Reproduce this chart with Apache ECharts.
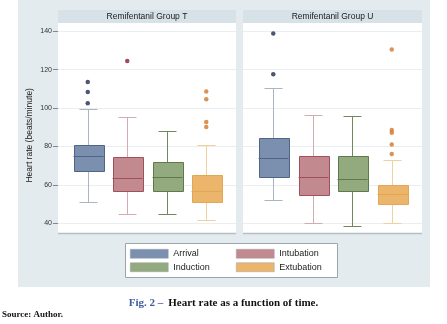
<!DOCTYPE html>
<html>
<head>
<meta charset="utf-8">
<script src="https://cdn.jsdelivr.net/npm/echarts@6/dist/echarts.min.js"></script>
<style>
  html, body { margin: 0; padding: 0; background: #fff; }
  #chart { width: 447px; height: 324px; }
</style>
</head>
<body>
<div id="chart"></div>
<script>
const groups = ["Remifentanil Group T", "Remifentanil Group U"];
const timePoints = ["Arrival", "Intubation", "Induction", "Extubation"];

// [lower whisker, Q1, median, Q3, upper whisker]
const groupTBoxes = [
  [51, 67, 75, 81, 99.5],
  [45, 57, 63.5, 74.5, 95.2],
  [44.7, 57, 64, 72, 88.3],
  [41.7, 51, 56.7, 65.2, 81],
];
const groupUBoxes = [
  [52, 64, 74, 84.4, 110.7],
  [40, 55, 64, 75, 96.6],
  [38.6, 56.7, 63, 75, 96.1],
  [40, 50.2, 55.3, 59.8, 72.8],
];
const groupTOutliers = [[113.6, 108.4, 102.5], [124.5], [], [108.6, 104.6, 92.8, 90.2]];
const groupUOutliers = [[138.8, 117.6], [], [], [130.5, 88.6, 87.2, 81, 76.1]];

const yMin = 40;
const yMax = 140;
const yStep = 20;

const fillColors = ["#7b90ae", "#c2898f", "#92aa7d", "#ebb66c"];
const edgeColors = ["#4f6487", "#a04f5c", "#5f7a49", "#e3a652"];
const whiskerColors = ["#aab4c5", "#d5aab0", "#6f8a5a", "#f0d09f"];
const outlierColors = ["#1f2c4f", "#8c1d31", "#5f7a49", "#d4772b"];

const panelLeft = [58, 243];
const panelWidth = [178, 179];
const plotTop = 31.3;
const plotHeight = 192;
const boxPitch = 39.5; // px between neighbouring boxes
const boxPx = 30;

const boxes = [groupTBoxes, groupUBoxes];
const outliers = [groupTOutliers, groupUOutliers];

const px = (v) => Math.round(v) + 0.5;

const renderBox = (k) => (params, api) => {
  const x = api.value(0);
  const xc = px(api.coord([x, 0])[0]);
  const y = [1, 2, 3, 4, 5].map((d) => px(api.coord([x, api.value(d)])[1]));
  const half = api.size([boxPx / boxPitch, 0])[0] / 2;
  const cap = half * 0.6;
  const wStyle = { stroke: whiskerColors[k], lineWidth: 1 };
  return {
    type: "group",
    children: [
      { type: "line", shape: { x1: xc, y1: y[4], x2: xc, y2: y[3] }, style: wStyle },
      { type: "line", shape: { x1: xc, y1: y[1], x2: xc, y2: y[0] }, style: wStyle },
      { type: "line", shape: { x1: xc - cap, y1: y[4], x2: xc + cap, y2: y[4] }, style: wStyle },
      { type: "line", shape: { x1: xc - cap, y1: y[0], x2: xc + cap, y2: y[0] }, style: wStyle },
      {
        type: "rect",
        shape: { x: Math.round(xc - half) + 0.5, y: y[3], width: Math.round(2 * half), height: y[1] - y[3] },
        style: { fill: fillColors[k], stroke: edgeColors[k], lineWidth: 1 },
      },
      { type: "line", shape: { x1: xc - half, y1: y[2], x2: xc + half, y2: y[2] }, style: { stroke: edgeColors[k], lineWidth: 1 } },
    ],
  };
};

const chart = echarts.init(document.getElementById("chart"), null, { renderer: "canvas" });

const grid = [];
const xAxis = [];
const yAxis = [];
const boxSeries = [];
const dotSeries = [];

groups.forEach((g, i) => {
  const half = panelWidth[i] / 2 / boxPitch;
  grid.push({ left: panelLeft[i], width: panelWidth[i], top: plotTop, height: plotHeight });
  xAxis.push({ type: "value", gridIndex: i, min: 1.5 - half, max: 1.5 + half, show: false });
  yAxis.push({
    type: "value",
    gridIndex: i,
    min: yMin,
    max: yMax,
    interval: yStep,
    name: i === 0 ? "Heart rate (beats/minute)" : "",
    nameLocation: "middle",
    nameGap: 24,
    nameTextStyle: { fontFamily: "Liberation Sans", fontSize: 8.5, color: "#222", padding: [0, 16, 0, 0] },
    axisLine: { show: false, onZero: false },
    axisTick: { show: i === 0, length: 5, lineStyle: { color: "#7d8890" } },
    axisLabel: { show: i === 0, fontFamily: "Liberation Sans", fontSize: 7, color: "#333", margin: 6 },
    splitLine: { lineStyle: { color: "#e8eef1", width: 1 } },
  });

  timePoints.forEach((name, k) => {
    boxSeries.push({
      name,
      type: "custom",
      xAxisIndex: i,
      yAxisIndex: i,
      silent: true,
      itemStyle: { color: fillColors[k], borderColor: edgeColors[k] },
      encode: { x: 0, y: [1, 2, 3, 4, 5] },
      renderItem: renderBox(k),
      data: [[k, ...boxes[i][k]]],
    });
    if (outliers[i][k].length) {
      dotSeries.push({
        name,
        type: "scatter",
        xAxisIndex: i,
        yAxisIndex: i,
        symbolSize: 4.5,
        silent: true,
        itemStyle: { color: outlierColors[k] },
        data: outliers[i][k].map((v) => [k, v]),
      });
    }
  });
});

const panelGraphics = groups.map((g, i) => ({
  type: "group",
  children: [
    { type: "rect", shape: { x: panelLeft[i], y: 10, width: panelWidth[i], height: 13 }, style: { fill: "#d7e2e8" }, z: -2 },
    { type: "rect", shape: { x: panelLeft[i], y: 23, width: panelWidth[i], height: 210 }, style: { fill: "#ffffff" }, z: -2 },
    { type: "line", shape: { x1: panelLeft[i], y1: 233.5, x2: panelLeft[i] + panelWidth[i], y2: 233.5 }, style: { stroke: "#b3bfc7", lineWidth: 1.5 }, z: 1 },
    {
      type: "text",
      x: panelLeft[i] + panelWidth[i] / 2,
      y: 16.5,
      style: { text: g, fill: "#1a1a1a", font: "8.5px 'Liberation Sans'", align: "center", verticalAlign: "middle" },
      z: 1,
    },
  ],
}));

const legendItem = (name) => {
  const k = timePoints.indexOf(name);
  return { name, itemStyle: { color: fillColors[k], borderColor: "#9aa3ab", borderWidth: 0.5 } };
};

const legendBase = {
  orient: "vertical",
  top: 249,
  padding: 0,
  itemWidth: 38,
  itemHeight: 9,
  itemGap: 4,
  icon: "rect",
  selectedMode: false,
  textStyle: { fontFamily: "Liberation Sans", fontSize: 9, color: "#222", lineHeight: 9 },
};

chart.setOption({
  backgroundColor: "#ffffff",
  animation: false,
  grid,
  xAxis,
  yAxis,
  series: [...boxSeries, ...dotSeries],
  legend: [
    { ...legendBase, left: 130, data: ["Arrival", "Induction"].map(legendItem) },
    { ...legendBase, left: 236, data: ["Intubation", "Extubation"].map(legendItem) },
  ],
  title: [
    {
      text: "{a|Fig. 2 –} {b|Heart rate as a function of time.}",
      left: "center",
      top: 294,
      padding: 0,
      textStyle: {
        rich: {
          a: { fontFamily: "Liberation Serif", fontWeight: "bold", fontSize: 11, color: "#3d5d9b" },
          b: { fontFamily: "Liberation Serif", fontWeight: "bold", fontSize: 11, color: "#111" },
        },
      },
    },
    {
      text: "Source: Author.",
      left: 2,
      top: 310,
      padding: 0,
      textStyle: { fontFamily: "Liberation Serif", fontWeight: "bold", fontSize: 9, color: "#111" },
    },
  ],
  graphic: [
    { type: "rect", shape: { x: 18, y: 0, width: 412, height: 287 }, style: { fill: "#e3ebef" }, z: -3 },
    ...panelGraphics,
    { type: "rect", shape: { x: 125.5, y: 243.5, width: 212, height: 34 }, style: { fill: "#ffffff", stroke: "#9aa5ad", lineWidth: 1 }, z: -1 },
  ],
});
</script>
</body>
</html>
